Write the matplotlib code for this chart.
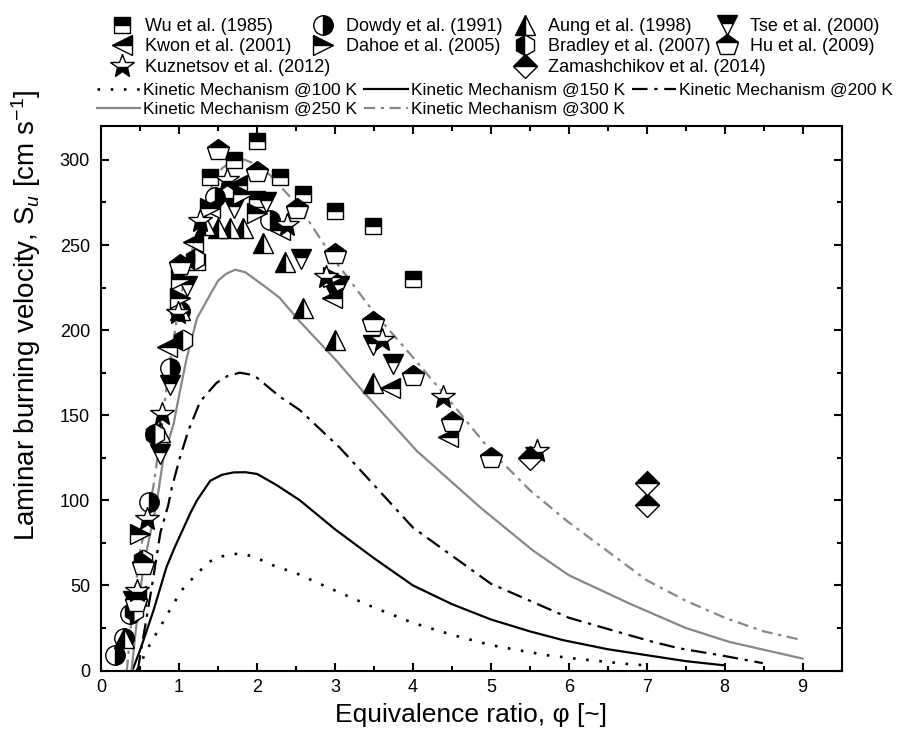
import matplotlib
matplotlib.use('Agg')
import matplotlib.pyplot as plt
from matplotlib.ticker import MultipleLocator

plt.rcParams['font.family'] = ['Liberation Sans', 'DejaVu Sans']
plt.rcParams['mathtext.fontset'] = 'custom'
plt.rcParams['mathtext.rm'] = 'Liberation Sans'
plt.rcParams['mathtext.it'] = 'Liberation Sans:italic'

# ---- experimental data (phi, Su) ----
wu_phi = [1.23, 1.40, 1.70, 2.00, 2.00, 2.29, 2.59, 3.00, 3.49, 4.00]
wu_su = [240, 290, 300, 311, 277, 290, 280, 270, 261, 230]

dowdy_phi = [0.18, 0.29, 0.37, 0.61, 0.69, 0.88, 1.01, 1.46, 2.17]
dowdy_su = [9, 19, 33, 99, 139, 178, 211, 278, 265]

aung_phi = [0.29, 0.46, 0.75, 1.01, 1.33, 1.50, 1.65, 1.82, 2.08, 2.36, 2.59, 3.00, 3.49]
aung_su = [19, 47, 140, 212, 262, 260, 260, 260, 251, 240, 213, 194, 169]

tse_phi = [0.41, 0.76, 0.88, 1.10, 1.70, 2.12, 2.57, 3.05, 3.00, 3.49, 3.75]
tse_su = [41, 127, 168, 226, 272, 275, 242, 226, 221, 191, 180]

kwon_phi = [0.45, 0.84, 1.18, 1.40, 1.74, 2.29, 2.96, 3.70, 4.45]
kwon_su = [44, 190, 252, 272, 285, 259, 219, 166, 137]

dahoe_phi = [0.50, 1.01, 1.03, 1.40, 1.82, 2.00, 2.98]
dahoe_su = [80, 219, 230, 272, 280, 269, 231]

bradley_phi = [0.42, 0.54, 0.69, 1.05, 1.21]
bradley_su = [35, 65, 139, 194, 242]

hu_phi = [0.45, 0.54, 1.01, 1.50, 2.00, 2.51, 3.00, 3.49, 4.00, 4.50, 5.00]
hu_su = [40, 62, 238, 306, 293, 271, 245, 205, 173, 146, 125]

kuz_phi = [0.46, 0.59, 0.78, 0.99, 1.27, 1.61, 2.38, 2.89, 3.60, 4.39, 5.59]
kuz_su = [47, 89, 151, 210, 264, 288, 262, 231, 194, 161, 129]

zam_phi = [5.50, 7.00, 7.00]
zam_su = [125, 110, 97]

# ---- kinetic mechanism curves ----
k100_phi = [0.46, 0.61, 0.77, 0.90, 1.03, 1.15, 1.25, 1.38, 1.50, 1.70, 1.87, 2.05, 2.21, 2.51,
            3.0, 3.5, 4.0, 4.5, 5.0, 5.71, 6.14, 6.78, 7.0]
k100_su = [0, 14, 26.6, 37, 47, 53, 57.8, 63.7, 66.5, 68.6, 68, 65, 61.7, 57,
           47, 37, 28, 21, 14.9, 9, 6.7, 3.7, 3]

k150_phi = [0.40, 0.50, 0.67, 0.84, 0.95, 1.06, 1.15, 1.23, 1.40, 1.55, 1.70, 1.85, 2.0, 2.25,
            2.55, 3.0, 3.5, 4.0, 4.5, 5.0, 5.5, 5.93, 6.5, 7.0, 7.5, 8.0]
k150_su = [0, 12, 35, 61, 73, 84, 93, 100, 111.5, 115, 116.4, 116.5, 115.5, 109,
           100, 83, 66, 50, 39, 30, 23, 17.8, 12.5, 9, 5.5, 3]

k200_phi = [0.47, 0.52, 0.65, 0.76, 0.86, 0.91, 1.01, 1.12, 1.27, 1.48, 1.62, 1.78, 1.90, 2.0,
            2.29, 2.55, 3.06, 4.0, 5.0, 6.0, 6.78, 7.08, 7.42, 7.94, 8.49]
k200_su = [0, 14, 49, 81, 97, 108, 125, 141, 158, 169, 173, 175, 174, 172,
           161, 153, 131, 84, 51, 31, 20.7, 16.8, 13, 9, 4.3]

k250_phi = [0.39, 0.44, 0.54, 0.71, 0.80, 0.93, 1.01, 1.10, 1.23, 1.40, 1.50, 1.60, 1.72, 1.85,
            2.0, 2.12, 2.29, 2.55, 3.0, 3.36, 4.05, 4.86, 5.54, 6.0, 6.78, 7.5, 8.06, 9.0]
k250_su = [0, 21.7, 60.8, 98, 125, 145, 164, 184, 207, 221, 229, 233, 235.5, 234,
           229, 225, 219, 205, 183, 164, 129, 96, 70.5, 56, 39.3, 25, 16.8, 7]

k300_phi = [0.33, 0.39, 0.50, 0.67, 0.76, 0.86, 1.0, 1.12, 1.23, 1.33, 1.44, 1.55, 1.72, 1.85,
            2.0, 2.17, 2.55, 2.98, 3.49, 4.0, 4.5, 5.0, 5.5, 6.0, 6.5, 7.0, 7.5, 8.0, 8.5, 9.0]
k300_su = [0, 31, 70, 108, 137, 174, 215, 240, 256, 273, 287, 295, 301, 300,
           297, 291, 272, 242, 211, 184, 157, 129, 106, 87, 70, 53, 41, 31, 23, 17.8]

GRAY = '#878787'

fig = plt.figure(figsize=(9.03, 7.45), dpi=100)
ax = fig.add_axes([0.112, 0.100, 0.820, 0.731])

# curves
curves = [
    (k100_phi, k100_su, 'black', (0, (1, 4)), 'Kinetic Mechanism @100 K'),
    (k150_phi, k150_su, 'black', '-', 'Kinetic Mechanism @150 K'),
    (k200_phi, k200_su, 'black', (0, (7, 3, 1.5, 3)), 'Kinetic Mechanism @200 K'),
    (k250_phi, k250_su, GRAY, '-', 'Kinetic Mechanism @250 K'),
    (k300_phi, k300_su, GRAY, (0, (5, 2.5, 1.5, 2.5)), 'Kinetic Mechanism @300 K'),
]
line_handles = []
for xs, ys, col, ls, lab in curves:
    lw = 1.9 if ls == (0, (1, 4)) else 1.6
    h, = ax.plot(xs, ys, color=col, linestyle=ls, linewidth=lw, zorder=2, label=lab)
    line_handles.append(h)


def style(marker, fill, ms):
    return dict(marker=marker, linestyle='none', fillstyle=fill,
                markerfacecolor='black', markerfacecoloralt='white',
                markeredgecolor='black', markersize=ms, markeredgewidth=1.0)


series = [
    (wu_phi, wu_su, style('s', 'top', 12), 'Wu et al. (1985)'),
    (dowdy_phi, dowdy_su, style('o', 'right', 14), 'Dowdy et al. (1991)'),
    (aung_phi, aung_su, style('^', 'left', 15), 'Aung et al. (1998)'),
    (tse_phi, tse_su, style('v', 'top', 15), 'Tse et al. (2000)'),
    (kwon_phi, kwon_su, style('<', 'top', 15), 'Kwon et al. (2001)'),
    (dahoe_phi, dahoe_su, style('>', 'top', 15), 'Dahoe et al. (2005)'),
    (bradley_phi, bradley_su, style('h', 'left', 15), 'Bradley et al. (2007)'),
    (hu_phi, hu_su, style('p', 'top', 16), 'Hu et al. (2009)'),
    (kuz_phi, kuz_su, style('*', 'bottom', 18), 'Kuznetsov et al. (2012)'),
    (zam_phi, zam_su, style('D', 'top', 12), 'Zamashchikov et al. (2014)'),
]
mk_handles = {}
for xs, ys, st, lab in series:
    h, = ax.plot(xs, ys, zorder=3, label=lab, **st)
    mk_handles[lab] = h

ax.set_xlim(0, 9.5)
ax.set_ylim(0, 320)
ax.xaxis.set_major_locator(MultipleLocator(1))
ax.xaxis.set_minor_locator(MultipleLocator(0.5))
ax.yaxis.set_major_locator(MultipleLocator(50))
ax.yaxis.set_minor_locator(MultipleLocator(25))
ax.tick_params(which='both', direction='in', top=True, right=True, width=1.5)
ax.tick_params(which='major', length=6, labelsize=13)
ax.tick_params(which='minor', length=3.5)
ax.tick_params(axis='x', pad=6)
ax.tick_params(axis='y', pad=8)
for sp in ax.spines.values():
    sp.set_linewidth(1.5)

ax.set_xlabel('Equivalence ratio, φ [~]', fontsize=19, labelpad=5)
ax.set_ylabel(r'Laminar burning velocity, S$_{\mathit{u}}$ [cm s$^{-1}$]', fontsize=20)
ax.yaxis.set_label_coords(-0.078, 0.652)

# marker legend: one small legend per column
names = [s[3] for s in series]
columns = [
    (0.1251, [names[0], names[4], names[8]]),
    (0.3477, [names[1], names[5]]),
    (0.5714, [names[2], names[6], names[9]]),
    (0.7951, [names[3], names[7]]),
]
for x0, labs in columns:
    fig.legend([mk_handles[n] for n in labs], labs, loc='upper left',
               bbox_to_anchor=(x0, 0.976), ncol=1, frameon=False, fontsize=13,
               handlelength=1.0, handletextpad=0.8, labelspacing=0.2,
               borderpad=0, borderaxespad=0, numpoints=1)

order = [0, 3, 1, 4, 2]
fig.legend([line_handles[i] for i in order], [curves[i][4] for i in order],
           loc='upper left', bbox_to_anchor=(0.107, 0.889), ncol=3, frameon=False,
           fontsize=12.5, handlelength=2.5, handletextpad=0.2, columnspacing=0.4,
           labelspacing=0.25, borderpad=0, borderaxespad=0)

fig.savefig('out.png', dpi=100)
